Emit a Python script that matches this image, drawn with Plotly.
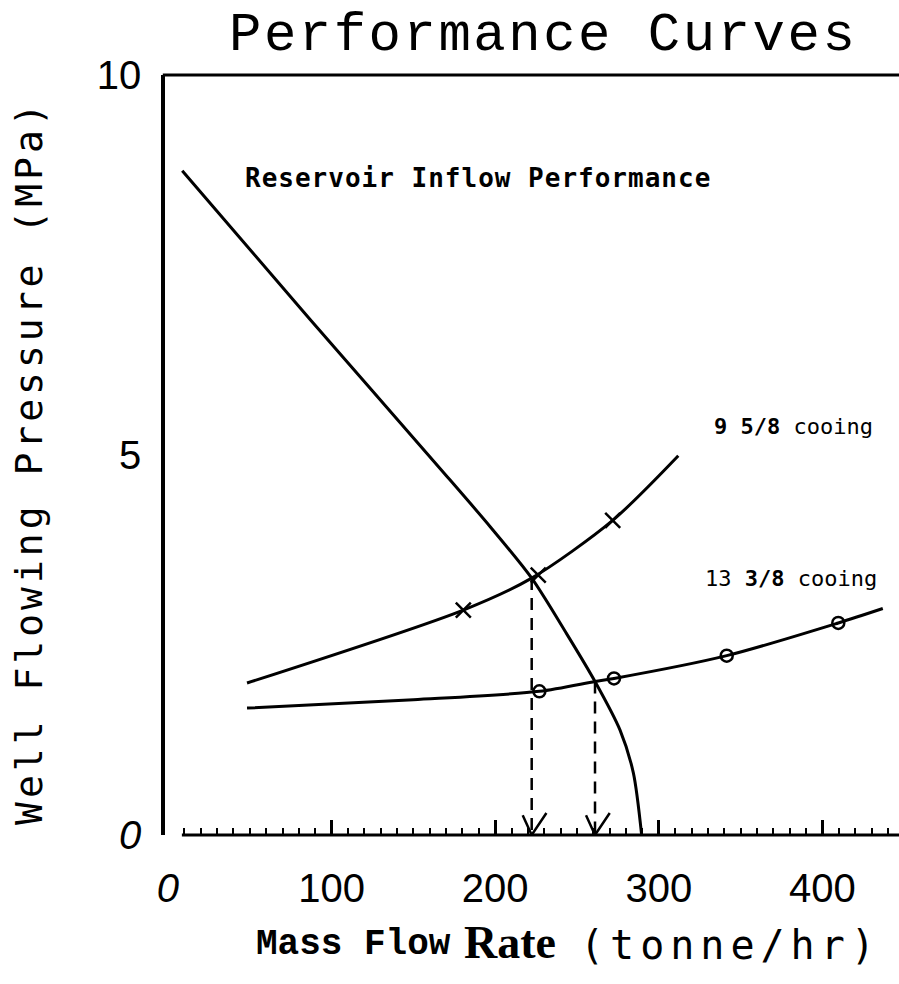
import plotly.graph_objects as go

# ---------------- data ----------------
# Reservoir inflow performance curve
rip_x = [8.7, 87, 166, 196.8, 222.3, 243.6, 261.0, 276.3, 284.4, 289.5]
rip_y = [8.74, 6.78, 4.83, 4.06, 3.38, 2.65, 2.02, 1.38, 0.82, 0.0]

# 9 5/8 casing curve and its measured points (x markers)
c95_x = [48.3, 180.5, 222.3, 271.8, 311.9]
c95_y = [2.00, 2.96, 3.38, 4.14, 4.99]
c95_px = [180.5, 226.3, 271.8]
c95_py = [2.96, 3.42, 4.14]

# 13 3/8 casing curve and its measured points (o markers)
c133_x = [48.3, 150, 227, 261, 272.6, 341.5, 409.7, 436.9]
c133_y = [1.67, 1.78, 1.89, 2.02, 2.06, 2.36, 2.79, 2.98]
c133_px = [227, 272.6, 341.5, 409.7]
c133_py = [1.89, 2.06, 2.36, 2.79]

# operating points (intersections) -> dashed drop lines
op_x = [222.3, 261.0]
op_y = [3.38, 2.02]

x_tickvals = [0, 100, 200, 300, 400]
x_ticktext = ["<i>0</i>", "100", "200", "300", "400"]
y_tickvals = [0, 5, 10]
y_ticktext = ["<i>0</i>", "5", "10"]

XR = [-1.83, 446.8]
YR = [0, 10]

# ---------------- figure ----------------
fig = go.Figure()
LW = 3
for xs, ys in [(rip_x, rip_y), (c95_x, c95_y), (c133_x, c133_y)]:
    fig.add_trace(go.Scatter(x=xs, y=ys, mode="lines",
                             line=dict(color="black", width=LW, shape="spline", smoothing=0.8),
                             showlegend=False, hoverinfo="skip"))
fig.add_trace(go.Scatter(x=c95_px, y=c95_py, mode="markers",
                         marker=dict(symbol="x-thin", size=15, line=dict(color="black", width=2.5)),
                         showlegend=False, hoverinfo="skip"))
fig.add_trace(go.Scatter(x=c133_px, y=c133_py, mode="markers",
                         marker=dict(symbol="circle-open", size=12, color="black",
                                     line=dict(color="black", width=2.5)),
                         showlegend=False, hoverinfo="skip"))

# dashed drop lines with open "V" arrow heads (on overlay axis x2)
for ox, oy in zip(op_x, op_y):
    fig.add_trace(go.Scatter(x=[ox, ox], y=[oy, 0], mode="lines", xaxis="x2",
                             line=dict(color="black", width=2.5, dash="12px,8px"),
                             showlegend=False, hoverinfo="skip"))
    fig.add_trace(go.Scatter(x=[ox - 5.5, ox, ox + 9], y=[0.26, 0, 0.29], mode="lines", xaxis="x2",
                             line=dict(color="black", width=2.5),
                             showlegend=False, hoverinfo="skip"))

minor_vals = [v for v in range(10, 450, 10) if v % 100 != 0]

fig.update_layout(
    width=899, height=984,
    margin=dict(l=165, r=0, t=75, b=149),
    paper_bgcolor="white", plot_bgcolor="white",
    showlegend=False,
    xaxis=dict(range=XR, showgrid=False, zeroline=False, showline=False,
               tickmode="array", tickvals=x_tickvals, ticktext=x_ticktext, ticks="",
               ticklabelstandoff=26,
               tickfont=dict(family="Liberation Sans", size=40, color="black")),
    xaxis2=dict(range=XR, overlaying="x", anchor="y", side="bottom", showgrid=False,
                zeroline=False, showline=False, showticklabels=False,
                tickmode="array", tickvals=[100, 200, 300, 400], ticks="inside",
                ticklen=15, tickwidth=2.5, tickcolor="black",
                minor=dict(tickmode="array", tickvals=minor_vals, ticks="inside",
                           ticklen=7, tickwidth=2, tickcolor="black")),
    yaxis=dict(range=YR, showgrid=False, zeroline=False, showline=True, linecolor="black",
               linewidth=3.5, tickmode="array", tickvals=y_tickvals, ticktext=y_ticktext,
               ticks="", ticklabelstandoff=12,
               tickfont=dict(family="Liberation Sans", size=40, color="black")),
    shapes=[
        dict(type="line", xref="paper", yref="paper", x0=-0.003, x1=1, y0=1, y1=1,
             line=dict(color="black", width=3)),
        dict(type="line", xref="paper", yref="paper", x0=0.023, x1=1, y0=0, y1=0,
             line=dict(color="black", width=3)),
    ],
)

ann = [
    # inside the plot (data coordinates)
    dict(text="<b><span style='letter-spacing:1px'>Reservoir Inflow Performance</span></b>",
         x=45.8, y=8.64, xref="x", yref="y", xanchor="left", yanchor="middle",
         font=dict(family="DejaVu Sans Mono", size=26, color="black")),
    dict(text="<b>9 5/8</b> cooing", x=332.5, y=5.37, xref="x", yref="y",
         xanchor="left", yanchor="middle",
         font=dict(family="DejaVu Sans Mono", size=22, color="black")),
    dict(text="13 <b>3/8</b> cooing", x=327, y=3.37, xref="x", yref="y",
         xanchor="left", yanchor="middle",
         font=dict(family="DejaVu Sans Mono", size=22, color="black")),
    # outside the plot (paper coordinates)
    dict(text="<span style='letter-spacing:2.5px'>Performance Curves</span>",
         x=0.515, y=1.0526, xref="paper", yref="paper",
         xanchor="center", yanchor="middle",
         font=dict(family="Liberation Mono", size=54, color="black")),
    dict(text="<span style='letter-spacing:4px'>Well Flowing Pressure (MPa)</span>",
         x=-0.1853, y=0.4908, xref="paper", yref="paper",
         textangle=-90, xanchor="center", yanchor="middle",
         font=dict(family="DejaVu Sans Mono", size=38, color="black")),
    dict(text="<b>Mass Flow</b>", x=0.1213, y=-0.1447, xref="paper", yref="paper",
         xanchor="left", yanchor="middle",
         font=dict(family="Liberation Mono", size=36, color="black")),
    dict(text="<b>Rate</b>", x=0.404, y=-0.141, xref="paper", yref="paper",
         xanchor="left", yanchor="middle",
         font=dict(family="Liberation Serif", size=46, color="black")),
    dict(text="<span style='letter-spacing:6px'>(tonne/hr)</span>",
         x=0.562, y=-0.1447, xref="paper", yref="paper",
         xanchor="left", yanchor="middle",
         font=dict(family="DejaVu Sans Mono", size=40, color="black")),
]
for a in ann:
    a.update(showarrow=False)
fig.update_layout(annotations=ann)

fig.write_html("out.html", config={"displayModeBar": False},
               post_script="document.body.style.margin='0';")
